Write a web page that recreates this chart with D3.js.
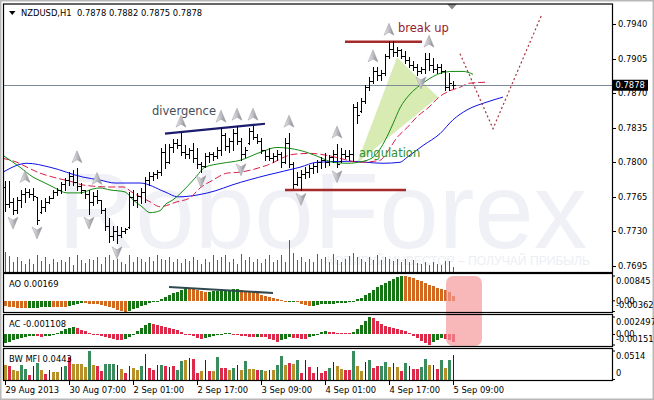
<!DOCTYPE html>
<html><head><meta charset="utf-8">
<script src="https://cdn.jsdelivr.net/npm/d3@7/dist/d3.min.js"></script>
<style>html,body{margin:0;padding:0;background:#fff;}svg{display:block;}</style>
</head><body><svg id="chart" width="654" height="400"></svg>
<script>
// ---------------- DATA ----------------
const titleText = "NZDUSD,H1  0.7878 0.7882 0.7875 0.7878";
const dateLabels = ["29 Aug 2013","30 Aug 07:00","2 Sep 01:00","2 Sep 17:00","3 Sep 09:00","4 Sep 01:00","4 Sep 17:00","5 Sep 09:00"];
const dateIdx = [0,16,32,48,64,80,96,112];
const priceTicks = [0.7940,0.7905,0.7870,0.7835,0.7800,0.7765,0.7730,0.7695];
const lastPrice = 0.7878;

const high = [0.7781,0.7781,0.7764,0.7765,0.7772,0.7774,0.7773,0.7774,0.7765,0.7762,
0.7764,0.7766,0.7772,0.7774,0.7780,0.7784,0.7790,0.7792,0.7794,0.7779,
0.7772,0.7772,0.7770,0.7772,0.7762,0.7754,0.7744,0.7736,0.7736,0.7734,
0.7733,0.7770,0.7772,0.7769,0.7774,0.7785,0.7790,0.7790,0.7792,0.7814,
0.7819,0.7819,0.7824,0.7824,0.7830,0.7817,0.7814,0.7820,0.7814,0.7800,
0.7809,0.7810,0.7810,0.7815,0.7835,0.7830,0.7825,0.7834,0.7837,0.7825,
0.7815,0.7835,0.7837,0.7829,0.7825,0.7812,0.7814,0.7809,0.7812,0.7810,
0.7825,0.7830,0.7800,0.7790,0.7792,0.7795,0.7797,0.7799,0.7802,0.7805,
0.7809,0.7807,0.7812,0.7819,0.7814,0.7812,0.7812,0.7859,0.7861,0.7865,
0.7878,0.7886,0.7896,0.7896,0.7893,0.7910,0.7923,0.7923,0.7917,0.7915,
0.7913,0.7907,0.7903,0.7900,0.7896,0.7911,0.7911,0.7906,0.7900,0.7900,
0.7893,0.7890,0.7882];
const low = [0.7751,0.7755,0.7748,0.7749,0.7755,0.7760,0.7765,0.7762,0.7738,0.7749,
0.7751,0.7759,0.7764,0.7767,0.7769,0.7772,0.7777,0.7777,0.7772,0.7769,
0.7764,0.7748,0.7757,0.7759,0.7749,0.7731,0.7719,0.7721,0.7718,0.7724,
0.7728,0.7733,0.7757,0.7755,0.7759,0.7760,0.7777,0.7782,0.7784,0.7787,
0.7794,0.7799,0.7810,0.7814,0.7807,0.7804,0.7804,0.7800,0.7794,0.7790,
0.7795,0.7800,0.7802,0.7804,0.7807,0.7812,0.7810,0.7812,0.7819,0.7802,
0.7805,0.7819,0.7824,0.7820,0.7809,0.7802,0.7802,0.7800,0.7802,0.7795,
0.7799,0.7795,0.7774,0.7777,0.7772,0.7784,0.7785,0.7789,0.7790,0.7794,
0.7795,0.7797,0.7800,0.7795,0.7800,0.7804,0.7802,0.7801,0.7840,0.7851,
0.7860,0.7873,0.7880,0.7883,0.7883,0.7888,0.7906,0.7908,0.7908,0.7906,
0.7901,0.7896,0.7893,0.7888,0.7890,0.7890,0.7893,0.7891,0.7890,0.7890,
0.7873,0.7873,0.7875];
const open = [0.7775,0.7758,0.7760,0.7752,0.7762,0.7768,0.7770,0.7768,0.7765,0.7750,
0.7755,0.7760,0.7764,0.7770,0.7772,0.7778,0.7782,0.7786,0.7780,0.7776,
0.7772,0.7768,0.7760,0.7766,0.7762,0.7752,0.7735,0.7725,0.7730,0.7726,
0.7730,0.7734,0.7765,0.7762,0.7766,0.7770,0.7782,0.7786,0.7788,0.7790,
0.7810,0.7800,0.7815,0.7820,0.7818,0.7810,0.7808,0.7812,0.7804,0.7798,
0.7796,0.7806,0.7808,0.7806,0.7812,0.7828,0.7816,0.7822,0.7830,0.7822,
0.7808,0.7820,0.7832,0.7826,0.7822,0.7812,0.7806,0.7804,0.7806,0.7808,
0.7800,0.7820,0.7798,0.7778,0.7785,0.7788,0.7790,0.7794,0.7796,0.7800,
0.7802,0.7800,0.7805,0.7808,0.7801,0.7808,0.7806,0.7808,0.7856,0.7852,
0.7862,0.7876,0.7882,0.7892,0.7888,0.7890,0.7908,0.7915,0.7912,0.7914,
0.7908,0.7904,0.7898,0.7896,0.7892,0.7894,0.7905,0.7898,0.7894,0.7896,
0.7892,0.7876,0.7878];
const close = [0.7758,0.7760,0.7752,0.7762,0.7768,0.7770,0.7768,0.7766,0.7742,0.7755,
0.7760,0.7764,0.7770,0.7772,0.7778,0.7782,0.7786,0.7780,0.7776,0.7772,
0.7768,0.7760,0.7766,0.7762,0.7752,0.7735,0.7725,0.7730,0.7726,0.7730,
0.7732,0.7765,0.7762,0.7766,0.7770,0.7782,0.7786,0.7788,0.7790,0.7810,
0.7800,0.7815,0.7820,0.7818,0.7810,0.7808,0.7812,0.7804,0.7798,0.7796,
0.7806,0.7808,0.7806,0.7812,0.7828,0.7816,0.7822,0.7830,0.7822,0.7808,
0.7812,0.7832,0.7826,0.7822,0.7812,0.7806,0.7804,0.7806,0.7808,0.7800,
0.7820,0.7798,0.7778,0.7785,0.7788,0.7790,0.7794,0.7796,0.7800,0.7802,
0.7800,0.7805,0.7808,0.7798,0.7808,0.7806,0.7808,0.7856,0.7848,0.7862,
0.7876,0.7882,0.7892,0.7888,0.7890,0.7908,0.7915,0.7912,0.7914,0.7908,
0.7904,0.7898,0.7896,0.7892,0.7894,0.7905,0.7898,0.7894,0.7896,0.7892,
0.7876,0.7880,0.7878];
const volume = [2000,1600,1000,1500,1100,800,1300,800,1700,1100,
1500,800,1300,1000,1200,1000,1500,700,1700,1200,
900,1300,1200,1500,800,1500,1700,1200,1300,1000,
800,1700,1000,1500,1300,1000,1500,1100,1700,1300,
1200,1500,1000,1300,900,1300,1100,1500,1200,800,
1300,1000,1700,1200,1500,1700,1000,1300,800,1800,
1200,1500,1000,1300,900,1300,1700,1000,1200,1700,
1000,3200,1900,1200,1500,1000,1300,1000,1800,1300,
1500,1000,1800,1200,1000,1300,1600,1900,1500,1300,
1000,1500,1200,1700,1200,1500,1300,1100,1300,1000,
1300,1000,1200,900,800,1000,700,1000,800,700,
1100,1100,500];

// Alligator lines: [bar index, price]
const jaw = [[-0.5,0.7790],[5.5,0.7799],[11.25,0.7795],[19.5,0.7785],[23.75,0.7782],[27.5,0.7779],[33.75,0.7779],[40,0.7770],[43.25,0.7765],[48.25,0.7767],[52.5,0.7771],[56.75,0.7777],[65.5,0.7787],[73.75,0.7795],[78,0.7800],[86.25,0.7801],[94.5,0.7799],[98.75,0.7800],[100.5,0.7805],[104.5,0.7817],[108.75,0.7829],[112,0.7843],[115.5,0.7853],[120.5,0.7861],[124.5,0.7866]];
const teeth = [[-0.5,0.7804],[3,0.7800],[5.5,0.7795],[8.75,0.7789],[12,0.7785],[17,0.7780],[19.5,0.7777],[26.25,0.7775],[29.5,0.7775],[32,0.7769],[36.25,0.7760],[38.75,0.7755],[43,0.7760],[46.25,0.7764],[48.75,0.7774],[52,0.7782],[55.5,0.7789],[58.75,0.7790],[65.5,0.7797],[72,0.7808],[76.25,0.7809],[80.5,0.7807],[83.75,0.7804],[88.75,0.7800],[93.75,0.7802],[95.5,0.7810],[98,0.7825],[100.5,0.7835],[103,0.7846],[106,0.7856],[108.5,0.7866],[111,0.7872],[113.75,0.7876],[116,0.7880],[120,0.7881]];
const lips = [[-0.5,0.7807],[3.75,0.7795],[7,0.7785],[9.5,0.7780],[12,0.7775],[15.5,0.7769],[18.75,0.7769],[22,0.7773],[23.75,0.7774],[26.25,0.7772],[30,0.7770],[32,0.7762],[34.25,0.7755],[36.25,0.7749],[38.75,0.7751],[40,0.7757],[42,0.7762],[44.25,0.7770],[47.5,0.7784],[50,0.7795],[54.25,0.7799],[58.75,0.7802],[63.75,0.7810],[68,0.7815],[71.25,0.7814],[75.5,0.7810],[78.75,0.7805],[82,0.7800],[85.5,0.7799],[90.5,0.7802],[93,0.7809],[95,0.7822],[97,0.7839],[98.75,0.7855],[101.25,0.7869],[103.75,0.7878],[106.25,0.7885],[108.75,0.7890],[112,0.7892],[114.5,0.7892],[117,0.7889]];

const upFractals = [5,18,23,44,54,58,62,71,83,92,96,106];
const downFractals = [2,8,21,28,49,59,74,83,104];

// Awesome Oscillator
const aoPrev = -0.00170;
const ao = [-0.00184,-0.00201,-0.00218,-0.00235,-0.00245,-0.00251,-0.00245,-0.00238,-0.00230,-0.00222,
-0.00215,-0.00208,-0.00212,-0.00218,-0.00222,-0.00225,-0.00180,-0.00135,-0.00100,-0.00080,
-0.00084,-0.00094,-0.00101,-0.00107,-0.00127,-0.00161,-0.00201,-0.00251,-0.00302,-0.00342,
-0.00362,-0.00335,-0.00285,-0.00235,-0.00184,-0.00134,-0.00084,-0.00050,-0.00017,0.00050,
0.00117,0.00184,0.00251,0.00318,0.00385,0.00436,0.00429,0.00402,0.00369,0.00335,
0.00302,0.00312,0.00328,0.00345,0.00362,0.00375,0.00385,0.00392,0.00395,0.00369,
0.00335,0.00308,0.00285,0.00251,0.00208,0.00168,0.00127,0.00084,0.00050,0.00017,
-0.00020,-0.00013,-0.00010,-0.00050,-0.00101,-0.00151,-0.00184,-0.00161,-0.00141,-0.00121,
-0.00107,-0.00101,-0.00094,-0.00087,-0.00080,-0.00074,-0.00050,-0.00010,0.00050,0.00111,
0.00184,0.00268,0.00369,0.00469,0.00553,0.00620,0.00687,0.00747,0.00797,0.00845,
0.00831,0.00804,0.00771,0.00720,0.00670,0.00603,0.00553,0.00503,0.00446,0.00402,
0.00358,0.00285,0.00169];
const aoTicks = [0.00845,0,-0.00362];
const aoTickLabels = ["0.00845","0.00","-0.00362"];

// Accelerator Oscillator
const acPrev = -0.00150;
const ac = [-0.001284,-0.001070,-0.000856,-0.000642,-0.000499,-0.000400,-0.000285,-0.000214,-0.000257,-0.000314,
-0.000285,-0.000214,-0.000071,0.000214,0.000499,0.000785,0.000928,0.000999,0.000856,0.000642,
0.000428,0.000143,-0.000071,-0.000143,-0.000285,-0.000428,-0.000571,-0.000685,-0.000742,-0.000785,
-0.000714,-0.000428,0.000071,0.000428,0.000856,0.001284,0.001641,0.001498,0.001356,0.001213,
0.001070,0.000856,0.000714,0.000571,0.000357,0.000071,-0.000143,-0.000285,-0.000499,-0.000714,
-0.000571,-0.000428,-0.000257,-0.000114,0.000071,0.000143,0.000214,0.000071,-0.000071,-0.000214,
-0.000285,-0.000357,-0.000400,-0.000357,-0.000400,-0.000428,-0.000642,-0.000856,-0.001070,-0.000856,
-0.000642,-0.000428,-0.000499,-0.000571,-0.000642,-0.000685,-0.000428,-0.000214,0.000071,0.000285,
0.000428,0.000314,0.000285,0.000257,0.000243,0.000228,0.000214,0.000357,0.000785,0.001284,
0.001855,0.002497,0.002283,0.001855,0.001427,0.001213,0.001070,0.000928,0.000785,0.000642,
0.000428,0.000143,-0.000214,-0.000571,-0.000928,-0.001213,-0.001510,-0.001142,-0.000856,-0.000571,
-0.000642,-0.000856,-0.001108];
const acTicks = [0.002497,0,-0.00151];
const acTickLabels = ["0.002497","0.00","-0.00151"];

// Market Facilitation Index
const mfi = [0.0257,0.0239,0.0165,0.0147,0.0257,0.0184,0.0073,0.0239,0.0294,0.0165,
0.0092,0.0165,0.0129,0.0129,0.0220,0.0239,0.0404,0.0275,0.0275,0.0275,
0.0220,0.0514,0.0257,0.0239,0.0147,0.0275,0.0275,0.0275,0.0257,0.0184,
0.0110,0.0239,0.0202,0.0165,0.0239,0.0459,0.0202,0.0165,0.0257,0.0257,
0.0239,0.0220,0.0239,0.0165,0.0330,0.0349,0.0386,0.0367,0.0110,0.0147,
0.0349,0.0147,0.0147,0.0404,0.0202,0.0202,0.0165,0.0202,0.0257,0.0165,
0.0330,0.0184,0.0184,0.0165,0.0165,0.0147,0.0165,0.0165,0.0257,0.0422,
0.0257,0.0294,0.0275,0.0349,0.0110,0.0349,0.0220,0.0110,0.0220,0.0110,
0.0147,0.0202,0.0312,0.0239,0.0184,0.0165,0.0165,0.0514,0.0239,0.0147,
0.0312,0.0349,0.0202,0.0239,0.0239,0.0312,0.0220,0.0294,0.0220,0.0147,
0.0294,0.0239,0.0184,0.0184,0.0220,0.0367,0.0257,0.0257,0.0184,0.0349,
0.0202,0.0349,0.0443];
// g = green (MFI up, vol up), o = fade, b = fake, r = squat
const mfiType = ("oroogg rbgo rbo obgr ooo ogorrgggbo rboogbrrbg rbrggobrro brogrrogbo goorgobogg orogrbrrbr rgboorrgoo bgrrggobor gbrrggobrg ogb").replace(/ /g,"").split("");
const mfiTicks = [0.0514,0];
const mfiTickLabels = ["0.0514","0"];

// annotations: [bar index, value]
const divergenceLine = [[40,0.7829],[65,0.7839]];
const aoDivergenceLine = [[41,0.00471],[67,0.00267]];
const resistanceLine = [[85,0.7922],[104.25,0.7922]];
const supportLine = [[70,0.7772],[100.25,0.7772]];
const wedge = [[88,0.7799],[98,0.7906],[108.25,0.7866]];
const forecast = [[113.75,0.7910],[122,0.7834],[134.25,0.7950]];
const highlightRange = [110.25,119.25];

// ---------------- DRAW ----------------
const svg = d3.select("#chart");
const AXF = "DejaVu Sans, Verdana, sans-serif";
const AXS = 8.4;
const N = high.length;

const x = d3.scaleLinear().domain([0,112]).range([5,453]);
const y = d3.scaleLinear().domain([0.7695,0.7940]).range([266,24]);
const yVol = d3.scaleLinear().domain([0,3200]).range([271.5,239.5]);
const yAO = d3.scaleLinear().domain([-0.00362,0.00845]).range([311.5,276]);
const yAC = d3.scaleLinear().domain([-0.00151,0.002497]).range([345,317]);
const yMFI = d3.scaleLinear().domain([0,0.0514]).range([379.5,351]);

const L = 4, R = 612;
const panels = {main:[4,272.5], ao:[273.5,312.5], ac:[314.5,346.5], mfi:[348.5,380.5]};

svg.append("rect").attr("width",654).attr("height",400).attr("fill","#fff");
svg.append("rect").attr("x",0.5).attr("y",0.5).attr("width",653).attr("height",399)
  .attr("fill","none").attr("stroke","#b8b8b8").attr("stroke-width",2);

const defs = svg.append("defs");
defs.append("clipPath").attr("id","clipMain").append("rect")
  .attr("x",L).attr("y",4).attr("width",R-L).attr("height",268.5);
const grad = defs.append("linearGradient").attr("id","silver").attr("x1",0).attr("x2",1).attr("y1",0).attr("y2",0);
grad.append("stop").attr("offset","0%").attr("stop-color","#ececf0");
grad.append("stop").attr("offset","50%").attr("stop-color","#bdbdc3");
grad.append("stop").attr("offset","100%").attr("stop-color","#85858d");

const main = svg.append("g").attr("clip-path","url(#clipMain)");

// watermark
main.append("text").attr("x",58).attr("y",248).text("RoboForex")
  .attr("font-family","Liberation Sans, Arial, sans-serif").attr("font-size",107)
  .attr("fill","#eff1f6");
main.append("text").attr("x",327).attr("y",265).text("КОПИРУЙ ИНВЕСТОР – ПОЛУЧАЙ ПРИБЫЛЬ")
  .attr("font-family","Liberation Sans, Arial, sans-serif").attr("font-size",12.5)
  .attr("textLength",263).attr("lengthAdjust","spacingAndGlyphs").attr("fill","#eceef3");

// angulation wedge
main.append("path").attr("d", d3.line().x(d=>x(d[0])).y(d=>y(d[1]))(wedge)+"Z")
  .attr("fill","#d8ebb2");

// volumes
main.selectAll("line.vol").data(volume).join("line").attr("class","vol")
  .attr("x1",(d,i)=>Math.round(x(i))+0.5).attr("x2",(d,i)=>Math.round(x(i))+0.5)
  .attr("y1",yVol(0)).attr("y2",d=>yVol(d))
  .attr("stroke","#2f7d32").attr("stroke-width",1).attr("shape-rendering","crispEdges");

// alligator
const maLine = d3.line().x(d=>x(d[0])).y(d=>y(d[1])).curve(d3.curveMonotoneX);
main.append("path").attr("d",maLine(jaw)).attr("fill","none").attr("stroke","#1010e8").attr("stroke-width",1);
main.append("path").attr("d",maLine(teeth)).attr("fill","none").attr("stroke","#d81e4a").attr("stroke-width",1).attr("stroke-dasharray","7,3");
main.append("path").attr("d",maLine(lips)).attr("fill","none").attr("stroke","#138a13").attr("stroke-width",1);

// current price line
main.append("line").attr("x1",L).attr("x2",R).attr("y1",Math.round(y(lastPrice))+0.5).attr("y2",Math.round(y(lastPrice))+0.5)
  .attr("stroke","#7d8b99").attr("stroke-width",1);

// annotation lines
const segLine = d3.line().x(d=>x(d[0])).y(d=>y(d[1]));
main.append("path").attr("d",segLine(divergenceLine)).attr("stroke","#1c1c6e").attr("stroke-width",2.2).attr("fill","none");
main.append("path").attr("d",segLine(resistanceLine)).attr("stroke","#a52a2a").attr("stroke-width",2.5).attr("fill","none");
main.append("path").attr("d",segLine(supportLine)).attr("stroke","#a52a2a").attr("stroke-width",2.5).attr("fill","none");

// OHLC bars
main.selectAll("path.bar").data(d3.range(N)).join("path").attr("class","bar")
  .attr("d", i => {
    const xi = Math.round(x(i)) + 0.5;
    const yh = Math.round(y(high[i])), yl = Math.round(y(low[i]));
    const yo = Math.round(y(open[i])) + 0.5, yc = Math.round(y(close[i])) + 0.5;
    return `M${xi},${yh}V${yl+1}M${xi-2},${yo}H${xi}M${xi},${yc}H${xi+2}`;
  })
  .attr("stroke","#000").attr("stroke-width",1).attr("fill","none").attr("shape-rendering","crispEdges");

// fractals
main.selectAll("path.up").data(upFractals).join("path").attr("class","up")
  .attr("transform", i => `translate(${x(i)},${y(high[i]) - 11})`)
  .attr("d","M0,-6.5L5,5.5L0,2.5L-5,5.5Z").attr("fill","url(#silver)").attr("stroke","#9a9aa2").attr("stroke-width",0.5);
main.selectAll("path.dn").data(downFractals).join("path").attr("class","dn")
  .attr("transform", i => `translate(${x(i)},${y(low[i]) + 9})`)
  .attr("d","M0,6.5L5,-5.5L0,-2.5L-5,-5.5Z").attr("fill","url(#silver)").attr("stroke","#9a9aa2").attr("stroke-width",0.5);

// forecast dotted path
main.append("path").attr("d",segLine(forecast)).attr("fill","none")
  .attr("stroke","#a3323a").attr("stroke-width",1.2).attr("stroke-dasharray","2,2.5");

// labels
const ANF = "DejaVu Sans, Verdana, sans-serif";
main.append("text").attr("x",152).attr("y",114.5).text("divergence").attr("font-family",ANF).attr("font-size",11.5).attr("fill","#444e5a");
main.append("text").attr("x",398).attr("y",31.5).text("break up").attr("font-family",ANF).attr("font-size",11.5).attr("fill","#951c2c");
main.append("text").attr("x",359).attr("y",156.5).text("angulation").attr("font-family",ANF).attr("font-size",11.5).attr("fill","#339133");

// chart shift marker
svg.append("path").attr("d","M447,4L457,4L452,9.5Z").attr("fill","#8a8a8a");

// title
svg.append("path").attr("d","M9,11L15.5,11L12.25,15Z").attr("fill","#000");
svg.append("text").attr("x",21).attr("y",16).attr("xml:space","preserve").style("white-space","pre")
  .text(titleText).attr("font-family",AXF).attr("font-size",AXS).attr("fill","#000");

// price axis
const pa = svg.append("g");
priceTicks.forEach(v => {
  const yy = Math.round(y(v)) + 0.5;
  pa.append("line").attr("x1",R).attr("x2",R+4).attr("y1",yy).attr("y2",yy).attr("stroke","#000");
  pa.append("text").attr("x",618).attr("y",yy).attr("dy","0.35em").text(v.toFixed(4))
    .attr("font-family",AXF).attr("font-size",AXS).attr("fill","#000");
});
const yp = y(lastPrice);
pa.append("rect").attr("x",613).attr("y",yp-5.5).attr("width",35).attr("height",11).attr("fill","#000");
pa.append("text").attr("x",615.5).attr("y",yp).attr("dy","0.35em").text(lastPrice.toFixed(4))
  .attr("font-family",AXF).attr("font-size",AXS).attr("fill","#fff");

// ---------- AO ----------
const aoUp = "#157515", aoDn = "#d2691e";
svg.selectAll("rect.ao").data(ao).join("rect").attr("class","ao")
  .attr("x",(d,i)=>Math.round(x(i))-1).attr("width",3)
  .attr("y",d=>Math.min(yAO(d),yAO(0))).attr("height",d=>Math.max(1,Math.abs(yAO(d)-yAO(0))))
  .attr("fill",(d,i)=> d > (i ? ao[i-1] : aoPrev) ? aoUp : aoDn).attr("shape-rendering","crispEdges");
svg.append("path").attr("d", d3.line().x(d=>x(d[0])).y(d=>yAO(d[1]))(aoDivergenceLine))
  .attr("stroke","#2f4a4f").attr("stroke-width",2.2).attr("fill","none");

// ---------- AC ----------
const acUp = "#157515", acDn = "#dc2a4a";
svg.selectAll("rect.ac").data(ac).join("rect").attr("class","ac")
  .attr("x",(d,i)=>Math.round(x(i))-1).attr("width",3)
  .attr("y",d=>Math.min(yAC(d),yAC(0))).attr("height",d=>Math.max(1,Math.abs(yAC(d)-yAC(0))))
  .attr("fill",(d,i)=> d > (i ? ac[i-1] : acPrev) ? acUp : acDn).attr("shape-rendering","crispEdges");

// ---------- MFI ----------
const mfiCol = {g:"#3a8c5e", o:"#b8902a", r:"#dc2a4a", b:"#1a1a80"};
svg.selectAll("rect.mfi").data(mfi).join("rect").attr("class","mfi")
  .attr("x",(d,i)=> mfiType[i]==="b" ? Math.round(x(i)) : Math.round(x(i))-1)
  .attr("width",(d,i)=> mfiType[i]==="b" ? 1.2 : 3)
  .attr("y",d=>yMFI(d)).attr("height",d=>yMFI(0)-yMFI(d))
  .attr("fill",(d,i)=>mfiCol[mfiType[i]]).attr("shape-rendering","crispEdges");

// highlight box
svg.append("rect").attr("x",x(highlightRange[0])).attr("y",276)
  .attr("width",x(highlightRange[1])-x(highlightRange[0])).attr("height",70)
  .attr("rx",7).attr("fill","rgb(245,150,154)").attr("opacity",0.68);

// panel frames
Object.values(panels).forEach(p => {
  svg.append("rect").attr("x",L-0.5).attr("y",p[0]).attr("width",R-L+1).attr("height",p[1]-p[0])
    .attr("fill","none").attr("stroke","#000").attr("stroke-width",1.2);
});

// sub-panel labels and scales
function subAxis(ticks, labels, scale, top, bottom) {
  ticks.forEach((v,k) => {
    const yy = scale(v);
    svg.append("line").attr("x1",R).attr("x2",R+3).attr("y1",yy).attr("y2",yy).attr("stroke","#000");
    const ly = Math.min(Math.max(yy, top+8), bottom-7);
    svg.append("text").attr("x",616).attr("y",ly).attr("dy","0.35em").text(labels[k])
      .attr("font-family",AXF).attr("font-size",AXS).attr("fill","#000");
  });
}
subAxis(aoTicks, aoTickLabels, yAO, panels.ao[0], panels.ao[1]);
subAxis(acTicks, acTickLabels, yAC, panels.ac[0], panels.ac[1]);
subAxis(mfiTicks, mfiTickLabels, yMFI, panels.mfi[0], panels.mfi[1]);

svg.append("text").attr("x",9).attr("y",287).text("AO " + ao[N-1].toFixed(5)).attr("font-family",AXF).attr("font-size",AXS);
svg.append("text").attr("x",9).attr("y",327).text("AC " + ac[N-1].toFixed(6)).attr("font-family",AXF).attr("font-size",AXS);
svg.append("text").attr("x",9).attr("y",362).text("BW MFI " + mfi[N-1].toFixed(4)).attr("font-family",AXF).attr("font-size",AXS);

// time axis
dateIdx.forEach((idx,k) => {
  const xx = Math.round(x(idx)) + 0.5;
  svg.append("line").attr("x1",xx).attr("x2",xx).attr("y1",381).attr("y2",385).attr("stroke","#000");
  svg.append("text").attr("x",xx).attr("y",392.5).text(dateLabels[k])
    .attr("font-family",AXF).attr("font-size",AXS).attr("fill","#000");
});
</script></body></html>
